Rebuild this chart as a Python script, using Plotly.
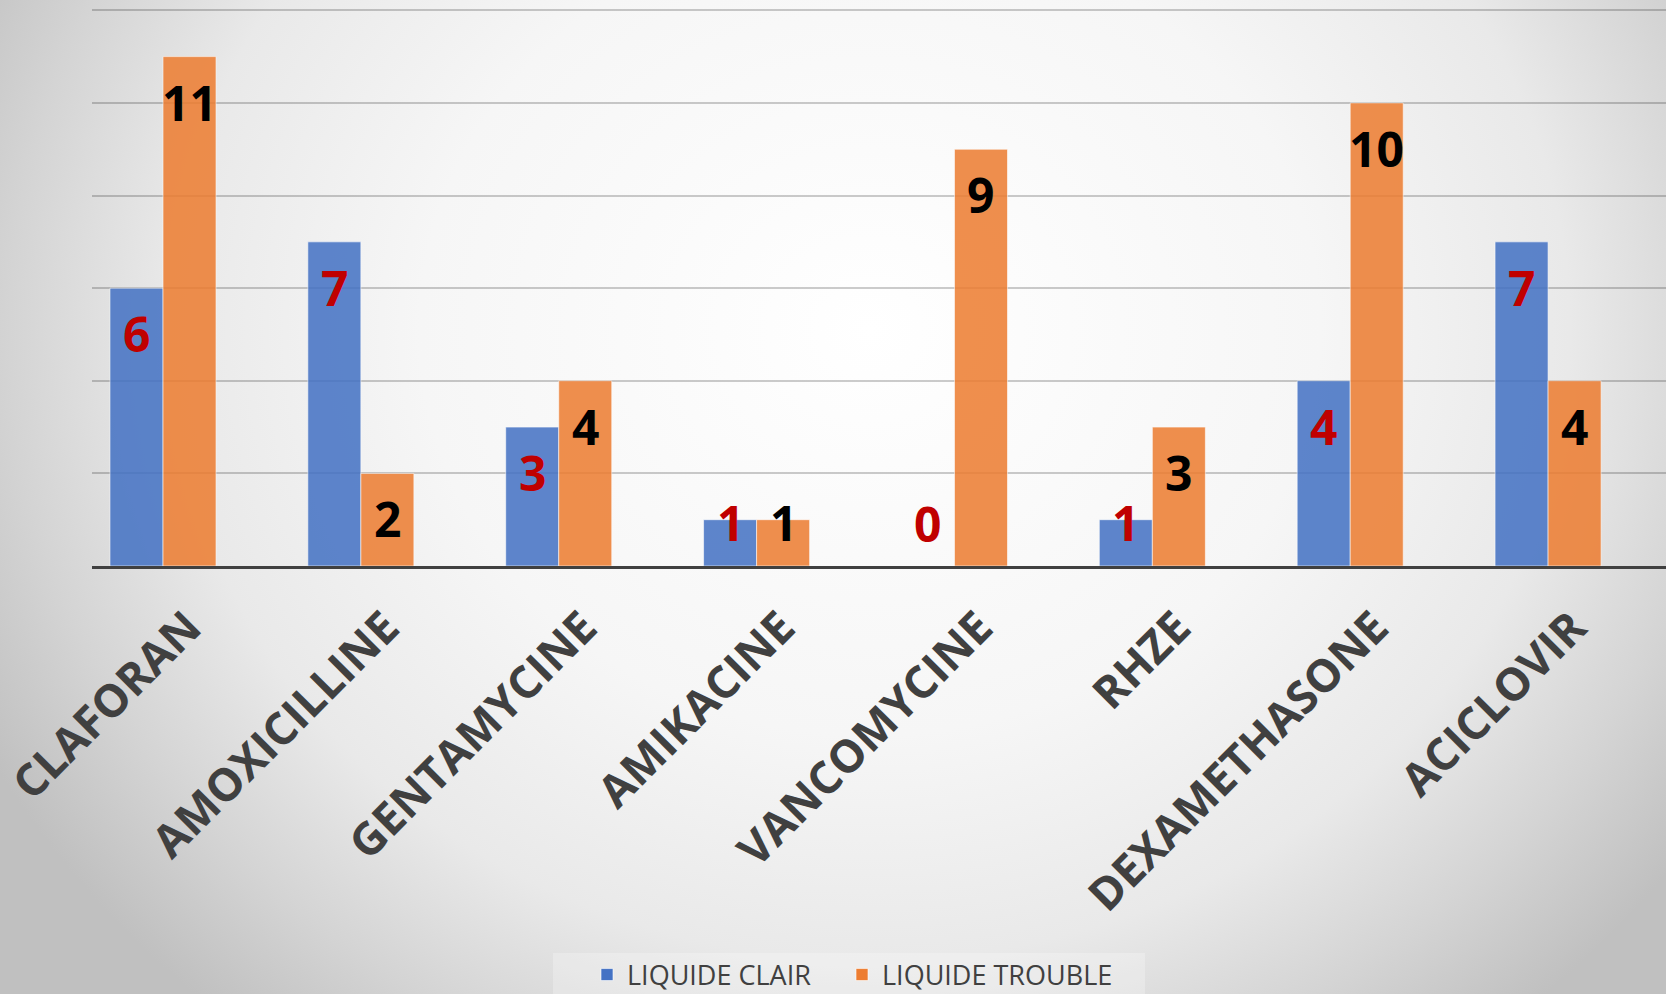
import plotly.graph_objects as go
from urllib.parse import quote

# ---------------- data ----------------
categories = ["CLAFORAN", "AMOXICILLINE", "GENTAMYCINE", "AMIKACINE",
              "VANCOMYCINE", "RHZE", "DEXAMETHASONE", "ACICLOVIR"]
liquide_clair = [6, 7, 3, 1, 0, 1, 4, 7]
liquide_trouble = [11, 2, 4, 1, 9, 3, 10, 4]
series_names = ["LIQUIDE CLAIR", "LIQUIDE TROUBLE"]
y_range = [0, 12.05]
y_step = 2

# ---------------- layout geometry ----------------
W, H = 1666, 994
ML, MR, MT, MB = 92, 0, 8, 428
PW, PH = W - ML - MR, H - MT - MB
x_range = [-0.3588, 7.596]
px_per_cat = PW / (x_range[1] - x_range[0])
px_per_unit = PH / (y_range[1] - y_range[0])
BARGAP = 0.464
bar_offset_px = (1 - BARGAP) / 4 * px_per_cat

BLUE = "#4472C4"
ORANGE = "#ED7D31"
FONT = "Open Sans"

fig = go.Figure()
fig.add_trace(go.Bar(
    x=categories, y=liquide_clair, name=series_names[0], legend="legend",
    marker=dict(color=BLUE, opacity=0.86,
                line=dict(color="rgba(255,255,255,0.6)", width=1)),
    hoverinfo="x+y",
))
fig.add_trace(go.Bar(
    x=categories, y=liquide_trouble, name=series_names[1], legend="legend2",
    marker=dict(color=ORANGE, opacity=0.86,
                line=dict(color="rgba(255,255,255,0.6)", width=1)),
    hoverinfo="x+y",
))

# value labels (inside end, pushed up when bar too short)
annotations = []
for vals, sign, col in ((liquide_clair, -1, "#C00000"), (liquide_trouble, 1, "#000000")):
    for cat, v in zip(categories, vals):
        shift = -min(45.5, v * px_per_unit - 43)
        annotations.append(dict(
            x=cat, y=v, xref="x", yref="y", text=str(v), showarrow=False,
            xshift=sign * bar_offset_px, yshift=shift,
            xanchor="center", yanchor="middle",
            font=dict(family=FONT, size=48, color=col, weight="bold"),
        ))

# background radial gradient
svg = (
    '<svg xmlns="http://www.w3.org/2000/svg" width="1666" height="994" '
    'viewBox="0 0 1666 994" preserveAspectRatio="none">'
    '<defs><radialGradient id="g" gradientUnits="userSpaceOnUse" cx="870" cy="330" r="1000" '
    'gradientTransform="translate(870 330) scale(1 0.9) translate(-870 -330)">'
    '<stop offset="0" stop-color="#ffffff"/>'
    '<stop offset="0.45" stop-color="#f6f6f6"/>'
    '<stop offset="0.7" stop-color="#e9e9e9"/>'
    '<stop offset="0.86" stop-color="#d4d4d4"/>'
    '<stop offset="1" stop-color="#c0c0c0"/>'
    '</radialGradient></defs>'
    '<rect x="0" y="0" width="1666" height="994" fill="url(#g)"/></svg>'
)
bg_src = "data:image/svg+xml;charset=utf-8," + quote(svg)

legend_common = dict(
    orientation="h", xref="container", yref="container",
    xanchor="left", y=1 - 975 / H, yanchor="middle",
    font=dict(family=FONT, size=27, color="#404040"),
    bgcolor="rgba(0,0,0,0)", itemclick=False, itemdoubleclick=False,
)

fig.update_layout(
    width=W, height=H,
    margin=dict(l=ML, r=MR, t=MT, b=MB, pad=0, autoexpand=False),
    paper_bgcolor="rgba(0,0,0,0)",
    plot_bgcolor="rgba(0,0,0,0)",
    barmode="group", bargap=BARGAP, bargroupgap=0,
    images=[dict(
        source=bg_src, xref="paper", yref="paper",
        x=-ML / PW, y=1 + MT / PH, sizex=W / PW, sizey=H / PH,
        xanchor="left", yanchor="top", sizing="stretch", layer="below",
    )],
    xaxis=dict(
        type="category", categoryorder="array", categoryarray=categories,
        range=x_range, showgrid=False, zeroline=False, automargin=False,
        showline=True, linecolor="#404040", linewidth=3,
        ticks="", tickangle=-45, ticklabelstandoff=14, ticklabelshift=25,
        tickfont=dict(family=FONT, size=45, color="#404040", weight="bold"),
    ),
    yaxis=dict(
        range=y_range, dtick=y_step, tick0=0, showgrid=True, automargin=False,
        gridcolor="rgba(0,0,0,0.2)", gridwidth=1.5,
        zeroline=False, showline=False, showticklabels=False, ticks="",
    ),
    legend=dict(legend_common, x=587 / W),
    legend2=dict(legend_common, x=842 / W),
    annotations=annotations,
    shapes=[dict(
        type="rect", xref="paper", yref="paper",
        x0=(553 - ML) / PW, x1=(1145 - ML) / PW,
        y0=-(H - MT - PH) / PH - 0.01, y1=-(953 - MT - PH) / PH,
        fillcolor="rgba(255,255,255,0.25)", line=dict(width=0), layer="below",
    )],
    showlegend=True,
)

fig.write_html(
    "out.html",
    config={"displayModeBar": False},
    post_script="document.body.style.margin='0';document.body.style.overflow='hidden';",
)
